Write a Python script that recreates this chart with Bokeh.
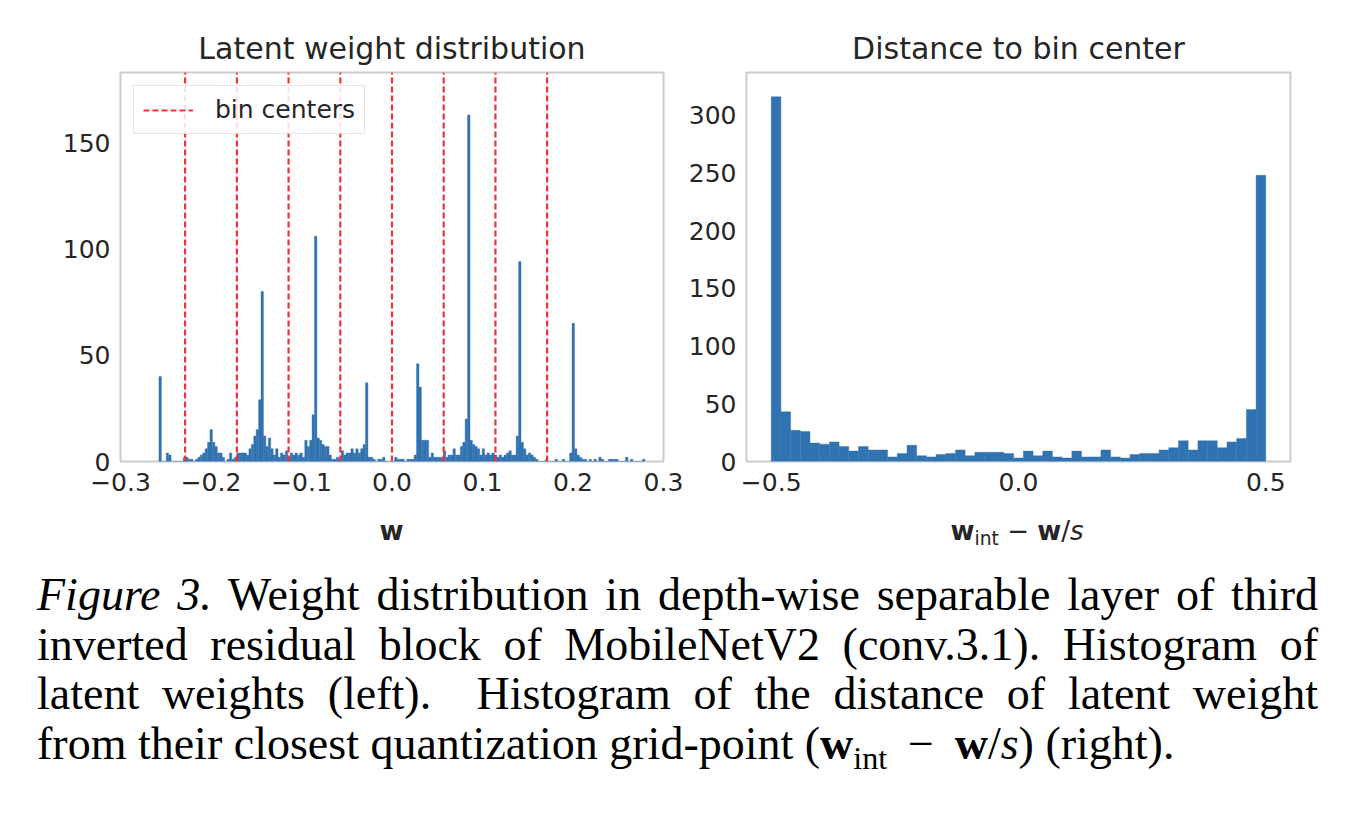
import numpy as np
from bokeh.plotting import figure
from bokeh.models import Range1d, FixedTicker, Div
from bokeh.layouts import row, column
from bokeh.embed import file_html
from bokeh.resources import INLINE

# ---------------- data ----------------
# Left panel: histogram of latent weights w (200 equal bins between w_min and w_max)
w_min, w_max = -0.2575, 0.2795
w_counts = [
    40, 0, 0, 4, 3, 0, 0, 0, 0, 0,
    2, 2, 1, 1, 0, 1, 2, 3, 4, 6,
    9, 15, 9, 7, 4, 4, 2, 0, 1, 4,
    1, 2, 4, 4, 4, 4, 3, 6, 8, 12,
    15, 29, 80, 12, 7, 11, 6, 3, 6, 2,
    4, 3, 5, 2, 4, 3, 4, 3, 4, 2,
    10, 7, 10, 22, 106, 11, 10, 8, 7, 7,
    3, 1, 1, 2, 1, 5, 3, 4, 4, 6,
    4, 6, 4, 6, 8, 37, 2, 2, 1, 0,
    1, 1, 2, 0, 0, 0, 0, 2, 1, 1,
    1, 0, 1, 1, 1, 3, 46, 35, 10, 10,
    10, 2, 4, 2, 2, 2, 2, 5, 2, 3,
    3, 6, 3, 3, 7, 9, 20, 163, 10, 8,
    7, 6, 3, 6, 3, 4, 3, 4, 3, 2,
    3, 2, 3, 4, 5, 3, 3, 12, 94, 9,
    6, 3, 4, 3, 2, 1, 0, 0, 0, 1,
    0, 0, 0, 1, 0, 0, 1, 0, 0, 4,
    65, 6, 3, 2, 1, 1, 0, 1, 0, 1,
    0, 2, 1, 0, 0, 1, 1, 1, 1, 0,
    0, 0, 2, 0, 1, 0, 0, 0, 0, 1,
]
bin_centers = [-0.2286, -0.1714, -0.1143, -0.0571, 0.0, 0.0571, 0.1143, 0.1714]

# Right panel: histogram of distance to bin center (equal bins over [-0.5, 0.5])
d_lo, d_hi = -0.5, 0.5
d_counts = [
    316, 43, 27, 26, 16, 15, 17, 13, 9, 13, 10, 10, 4, 7, 14, 5, 4, 6, 7, 10, 5, 8, 8, 8, 7,
    3, 9, 5, 9, 4, 3, 9, 4, 4, 10, 4, 3, 6, 7, 7, 10, 12, 18, 10, 18, 18, 12, 17, 20, 45, 248,
]

left_title = "Latent weight distribution"
right_title = "Distance to bin center"
left_xticks = [-0.3, -0.2, -0.1, 0.0, 0.1, 0.2, 0.3]
left_xtick_labels = ["\u22120.3", "\u22120.2", "\u22120.1", "0.0", "0.1", "0.2", "0.3"]
left_yticks = [0, 50, 100, 150]
right_xticks = [-0.5, 0.0, 0.5]
right_xtick_labels = ["\u22120.5", "0.0", "0.5"]
right_yticks = [0, 50, 100, 150, 200, 250, 300]

# ---------------- style ----------------
FONT = "DejaVu Sans"
TXT = "#262626"
BAR = "#3172b1"
RED = "#ee3535"
FRAME = "#cccccc"


def style(p, xticks, xlabels, yticks):
    p.background_fill_color = "white"
    p.border_fill_color = "white"
    p.outline_line_color = FRAME
    p.outline_line_width = 2
    p.grid.visible = False
    p.title.text_font = FONT
    p.title.text_font_size = "30px"
    p.title.text_font_style = "normal"
    p.title.text_color = TXT
    p.title.align = "center"
    p.title.standoff = 13
    for ax in (p.xaxis, p.yaxis):
        ax.axis_line_color = None
        ax.major_tick_line_color = None
        ax.minor_tick_line_color = None
        ax.major_tick_out = 0
        ax.major_tick_in = 0
        ax.major_label_text_font = FONT
        ax.major_label_text_font_size = "25px"
        ax.major_label_text_color = TXT
    p.xaxis.ticker = FixedTicker(ticks=xticks)
    p.xaxis.major_label_overrides = {t: l for t, l in zip(xticks, xlabels)}
    p.xaxis.major_label_standoff = 11
    p.yaxis.ticker = FixedTicker(ticks=yticks)
    p.yaxis.major_label_standoff = 10


# ---------------- left panel ----------------
p1 = figure(frame_width=543, frame_height=389,
            x_range=Range1d(-0.3, 0.3), y_range=Range1d(0, 183),
            min_border_left=120, min_border_right=22,
            min_border_top=72, min_border_bottom=45,
            title=left_title, output_backend="svg", toolbar_location=None)
style(p1, left_xticks, left_xtick_labels, left_yticks)

w_edges = np.linspace(w_min, w_max, len(w_counts) + 1)
p1.quad(left=w_edges[:-1], right=w_edges[1:], bottom=0, top=w_counts,
        fill_color=BAR, line_color=BAR, line_width=0.4)
n_c = len(bin_centers)
p1.segment(x0=bin_centers, x1=bin_centers,
           y0=[p1.y_range.start] * n_c, y1=[p1.y_range.end] * n_c,
           line_color=RED, line_width=2.2, line_dash="6 3",
           legend_label="bin centers")

lg = p1.legend[0]
lg.location = "top_left"
lg.margin = 13
lg.padding = 9
lg.label_standoff = 22
lg.glyph_width = 50
lg.glyph_height = 24
lg.label_text_font = FONT
lg.label_text_font_size = "25px"
lg.label_text_color = TXT
lg.border_line_color = FRAME
lg.border_line_width = 1.5
lg.background_fill_color = "white"
lg.background_fill_alpha = 0.85

# ---------------- right panel ----------------
p2 = figure(frame_width=544, frame_height=389,
            x_range=Range1d(-0.55, 0.55), y_range=Range1d(0, 337),
            min_border_left=60, min_border_right=61,
            min_border_top=72, min_border_bottom=45,
            title=right_title, output_backend="svg", toolbar_location=None)
style(p2, right_xticks, right_xtick_labels, right_yticks)

d_edges = np.linspace(d_lo, d_hi, len(d_counts) + 1)
p2.quad(left=d_edges[:-1], right=d_edges[1:], bottom=0, top=d_counts,
        fill_color=BAR, line_color=BAR, line_width=0.4)

# ---------------- x-axis labels (HTML, so sub-scripts / mixed styles work) ----------------
lab_style = (f"font-family:'{FONT}';font-size:26px;line-height:30px;color:{TXT};"
             "text-align:center;padding-top:10px;white-space:nowrap")
left_xlabel = Div(
    text=f"<div style=\"margin-left:120px;width:543px;{lab_style}\"><b>w</b></div>",
    width=685, height=64, margin=0)
right_xlabel = Div(
    text=(f"<div style=\"margin-left:60px;width:544px;{lab_style}\">"
          "<b>w</b><span style=\"font-size:0.72em;position:relative;top:0.28em\">int</span>"
          "&nbsp;\u2212&nbsp;<b>w</b>/<i>s</i></div>"),
    width=665, height=64, margin=0)

# ---------------- caption ----------------
cap_lines = [
    "<i>Figure 3.</i> Weight distribution in depth-wise separable layer of third",
    "inverted residual block of MobileNetV2 (conv.3.1). Histogram of",
    "latent weights (left).&nbsp; Histogram of the distance of latent weight",
    "from their closest quantization grid-point (<b>w</b><span style=\"font-size:0.7em;"
    "position:relative;top:0.3em\">int</span>&thinsp; \u2212 &thinsp;<b>w</b>/<i>s</i>) (right).",
]
html = ["<div style=\"margin-left:37px;width:1281px;font-family:'Liberation Serif','Times New Roman',serif;"
        "font-size:46px;line-height:49.7px;color:#000\">"]
for i, ln in enumerate(cap_lines):
    last = i == len(cap_lines) - 1
    al = "text-align:left" if last else "text-align:justify;text-align-last:justify"
    html.append(f"<div style=\"white-space:nowrap;{al}\">{ln}</div>")
html.append("</div>")
caption = Div(text="".join(html), width=1350, height=248, margin=0)

layout = column(row(p1, p2, spacing=0),
                row(left_xlabel, right_xlabel, spacing=0),
                caption, spacing=0)
open("out.html", "w").write(file_html(layout, INLINE))
